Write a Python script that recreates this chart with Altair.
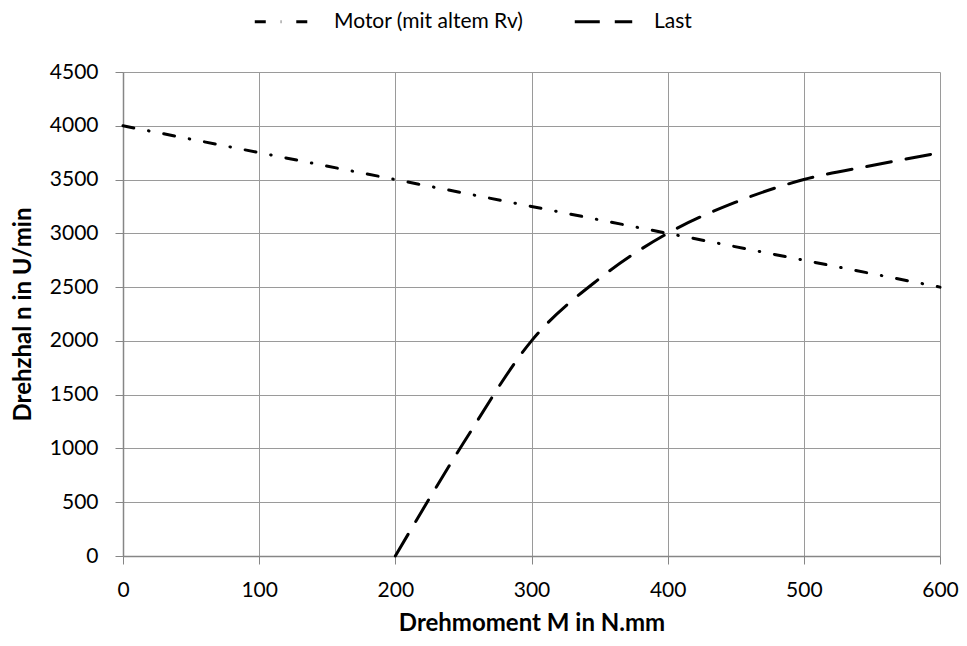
import altair as alt
import pandas as pd

series = ["Motor (mit altem Rv)", "Last"]

motor_x = [0, 200, 400, 600]
motor_y = [4000, 3500, 3000, 2500]

last_x = [200, 250, 300, 350, 400, 450, 500, 550, 600]
last_y = [0, 1050, 2000, 2580, 3000, 3290, 3500, 3630, 3750]

x_ticks = [0, 100, 200, 300, 400, 500, 600]
y_ticks = [0, 500, 1000, 1500, 2000, 2500, 3000, 3500, 4000, 4500]

rows = [{"M": x, "n": y, "s": series[0], "o": i} for i, (x, y) in enumerate(zip(motor_x, motor_y))]
rows += [{"M": x, "n": y, "s": series[1], "o": i} for i, (x, y) in enumerate(zip(last_x, last_y))]
df = pd.DataFrame(rows)

FONT = "Lato"

chart = alt.Chart(df).mark_line(
    color="black", strokeWidth=3, strokeCap="round", interpolate="monotone"
).encode(
    x=alt.X("M:Q", scale=alt.Scale(domain=[0, 600], nice=False),
            axis=alt.Axis(title="Drehmoment M in N.mm", values=x_ticks, format="d",
                          labelPadding=15, titlePadding=11)),
    y=alt.Y("n:Q", scale=alt.Scale(domain=[0, 4500], nice=False),
            axis=alt.Axis(title="Drehzhal n in U/min", values=y_ticks, format="d",
                          labelPadding=17, titlePadding=14)),
    strokeDash=alt.StrokeDash(
        "s:N",
        scale=alt.Scale(domain=series, range=[[11, 15, 0.5, 15], [25, 15]]),
        legend=alt.Legend(
            title=None, orient="none", direction="horizontal",
            legendX=130, legendY=-81,
            symbolType="stroke", symbolSize=3300, symbolStrokeWidth=3,
            symbolStrokeColor="black",
            labelFont=FONT, labelFontSize=21, labelColor="black", labelLimit=0,
            labelOffset=20, columnPadding=44, padding=0,
        ),
    ),
    order="o:Q",
).properties(
    width=817, height=484,
    autosize=alt.AutoSizeParams(type="none"),
    padding={"left": 115, "top": 64, "right": 19, "bottom": 81},
).configure_view(
    stroke=None
).configure_axis(
    domainColor="#868686", domainWidth=1.5,
    gridColor="#9a9a9a", gridWidth=1,
    tickColor="#868686", tickSize=8, tickWidth=1,
    labelFont=FONT, labelFontSize=21, labelColor="black",
    labelFlush=False, labelOverlap=False,
    titleFont=FONT, titleFontSize=24, titleFontWeight="bold", titleColor="black",
    grid=True,
)

chart.save("out.html", embed_options={"renderer": "svg", "actions": False})
